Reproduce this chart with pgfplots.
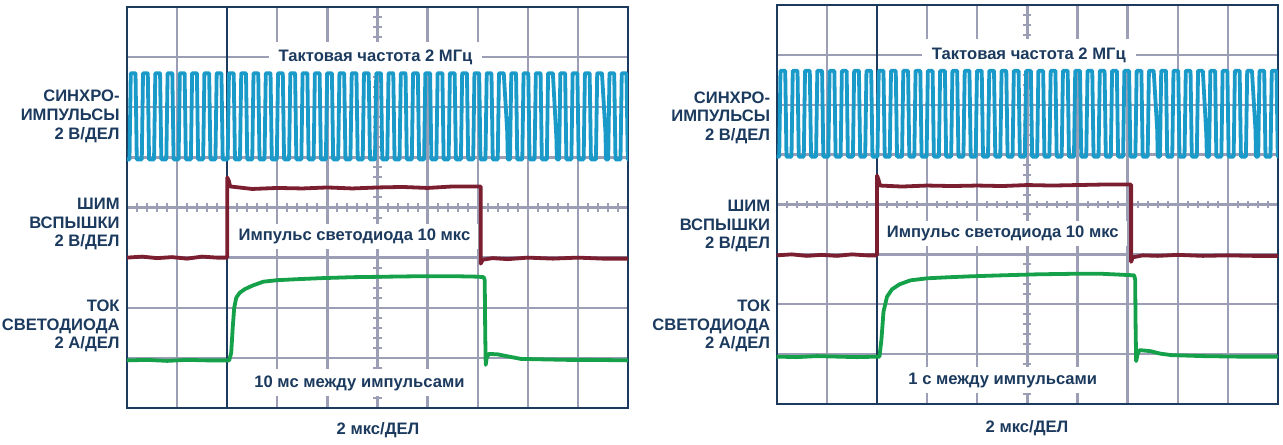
\documentclass[border=0pt]{standalone}
\usepackage{pgfplots}
\pgfplotsset{compat=1.18}
\usepackage{pgfplotstable}
\usepackage{fontspec}
\setmainfont{Liberation Sans}
\definecolor{navy}{HTML}{1B3A5E}
\definecolor{gridc}{HTML}{9C9EB5}
\definecolor{clk}{HTML}{1A9AC8}
\definecolor{pwm}{HTML}{7A1E30}
\definecolor{led}{HTML}{15A04A}

\pgfplotstableread{
x y
0 4.96
0.05 4.96
0.075 6.68
0.17 6.68
0.195 4.96
0.295 4.96
0.32 6.68
0.415 6.68
0.44 4.96
0.54 4.96
0.565 6.68
0.66 6.68
0.685 4.96
0.785 4.96
0.81 6.68
0.905 6.68
0.93 4.96
1.03 4.96
1.055 6.68
1.15 6.68
1.175 4.96
1.275 4.96
1.3 6.68
1.395 6.68
1.42 4.96
1.52 4.96
1.545 6.68
1.64 6.68
1.665 4.96
1.765 4.96
1.79 6.68
1.885 6.68
1.91 4.96
2.01 4.96
2.035 6.68
2.13 6.68
2.155 4.96
2.255 4.96
2.28 6.68
2.375 6.68
2.4 4.96
2.5 4.96
2.525 6.68
2.62 6.68
2.645 4.96
2.745 4.96
2.77 6.68
2.865 6.68
2.89 4.96
2.99 4.96
3.015 6.68
3.11 6.68
3.135 4.96
3.235 4.96
3.26 6.68
3.355 6.68
3.38 4.96
3.48 4.96
3.505 6.68
3.6 6.68
3.625 4.96
3.725 4.96
3.75 6.68
3.845 6.68
3.87 4.96
3.97 4.96
3.995 6.68
4.09 6.68
4.115 4.96
4.215 4.96
4.24 6.68
4.335 6.68
4.36 4.96
4.46 4.96
4.485 6.68
4.58 6.68
4.605 4.96
4.705 4.96
4.73 6.68
4.825 6.68
4.85 4.96
4.95 4.96
4.975 6.68
5.07 6.68
5.095 4.96
5.195 4.96
5.22 6.68
5.315 6.68
5.34 4.96
5.44 4.96
5.465 6.68
5.56 6.68
5.585 4.96
5.685 4.96
5.71 6.68
5.805 6.68
5.83 4.96
5.93 4.96
5.955 6.68
6.05 6.68
6.075 4.96
6.175 4.96
6.2 6.68
6.295 6.68
6.32 4.96
6.42 4.96
6.445 6.68
6.54 6.68
6.565 4.96
6.665 4.96
6.69 6.68
6.785 6.68
6.81 4.96
6.91 4.96
6.935 6.68
7.03 6.68
7.055 4.96
7.155 4.96
7.18 6.68
7.275 6.68
7.3 4.96
7.4 4.96
7.425 6.68
7.52 6.68
7.59 5.5
7.6 4.96
7.645 4.96
7.67 6.68
7.765 6.68
7.79 4.96
7.89 4.96
7.915 6.68
8.01 6.68
8.035 4.96
8.135 4.96
8.16 6.68
8.255 6.68
8.28 4.96
8.38 4.96
8.405 6.68
8.5 6.68
8.57 5.4
8.58 4.96
8.625 4.96
8.65 6.68
8.745 6.68
8.77 4.96
8.87 4.96
8.895 6.68
8.99 6.68
9.015 4.96
9.115 4.96
9.14 6.68
9.235 6.68
9.26 4.96
9.36 4.96
9.385 6.68
9.48 6.68
9.55 5.5
9.56 4.96
9.605 4.96
9.63 6.68
9.725 6.68
9.75 4.96
9.85 4.96
9.875 6.68
9.97 6.68
9.995 4.96
10 4.96
}\clock

\pgfplotstableread{
x y
0 3.0
0.3 3.02
0.6 2.99
0.9 3.01
1.2 2.98
1.5 3.02
1.8 3.0
2.0 3.0
2.0 4.6
2.03 4.54
2.06 4.42
2.5 4.37
3.0 4.39
3.5 4.38
4.0 4.40
4.5 4.38
5.0 4.40
5.5 4.41
6.0 4.39
6.5 4.42
7.06 4.42
7.06 2.88
7.1 2.96
7.3 2.99
7.6 2.97
8.0 3.0
8.5 2.98
9.0 3.0
9.5 2.98
10 2.98
}\pwmL

\pgfplotstableread{
x y
0 0.95
0.4 0.96
0.8 0.94
1.2 0.96
1.6 0.95
2.04 0.95
2.08 1.1
2.11 1.6
2.14 2.0
2.18 2.2
2.25 2.3
2.35 2.37
2.5 2.44
2.72 2.52
3.0 2.55
3.4 2.57
3.86 2.59
4.5 2.61
5.2 2.62
5.9 2.63
6.5 2.63
7.0 2.62
7.12 2.61
7.14 2.55
7.15 1.5
7.16 0.86
7.18 1.0
7.22 1.08
7.4 1.07
7.6 1.03
7.86 0.98
8.3 0.97
8.8 0.96
9.3 0.96
10 0.95
}\ledL

\pgfplotstableread{
x y
0 2.98
0.3 3.0
0.6 2.97
0.9 2.99
1.2 2.97
1.5 3.0
1.8 2.98
2.0 2.98
2.0 4.58
2.03 4.5
2.06 4.38
2.5 4.36
3.0 4.38
3.5 4.37
4.0 4.38
4.5 4.37
5.0 4.39
5.5 4.38
6.0 4.39
6.5 4.40
7.07 4.40
7.07 2.85
7.1 2.94
7.3 2.98
7.6 2.97
8.0 2.99
8.5 2.97
9.0 2.98
9.5 2.97
10 2.97
}\pwmR

\pgfplotstableread{
x y
0 0.95
0.4 0.94
0.8 0.96
1.2 0.95
1.6 0.94
2.05 0.95
2.09 1.3
2.13 1.85
2.2 2.15
2.3 2.3
2.45 2.4
2.67 2.48
3.0 2.52
3.4 2.54
3.87 2.56
4.5 2.58
5.2 2.6
5.87 2.61
6.5 2.61
7.13 2.58
7.15 2.5
7.16 1.5
7.17 0.86
7.2 1.0
7.24 1.08
7.45 1.06
7.65 1.01
7.87 0.98
8.5 0.96
9.2 0.95
10 0.95
}\ledR

\pgfplotsset{osc/.style={
  scale only axis, xmin=0, xmax=10, ymin=0, ymax=8,
  xtick={1,...,9}, ytick={1,...,7},
  xticklabels={}, yticklabels={},
  major tick length=0pt, grid=major,
  major grid style={gridc, line width=1.15pt},
  axis line style={navy, line width=1.1pt},
  clip mode=individual,
  every axis plot/.append style={line width=1.9pt, line join=round},
}}
\tikzset{lbl/.style={font=\bfseries\fontsize{8.3}{9.4}\selectfont, text=navy}}

\begin{document}
\begin{tikzpicture}[x=0.5pt, y=0.5pt]
\useasboundingbox (0pt,0pt) rectangle (641.5pt,222pt);
% left panel
\begin{axis}[osc, at={(63.5pt,18pt)}, anchor=south west, width=250.5pt, height=200.5pt]
\pgfplotsinvokeforeach{1,...,49}{\draw[gridc, line width=1pt] (axis cs:{#1*0.2},3.92) -- (axis cs:{#1*0.2},4.08);}
\pgfplotsinvokeforeach{1,...,39}{\draw[gridc, line width=1pt] (axis cs:4.92,{#1*0.2}) -- (axis cs:5.08,{#1*0.2});}
\draw[navy, line width=1.1pt] (axis cs:2,0) -- (axis cs:2,8);
\node[lbl, fill=white, inner xsep=5pt, inner ysep=4pt] at (axis cs:4.96,7) {Тактовая частота 2 МГц};
\node[lbl, fill=white, inner xsep=4pt, inner ysep=2.5pt] at (axis cs:4.54,3.43) {Импульс светодиода 10 мкс};
\node[lbl, fill=white, inner xsep=4pt, inner ysep=3pt] at (axis cs:4.64,0.5) {10 мс между импульсами};
\addplot[clk] table {\clock};
\addplot[pwm] table {\pwmL};
\addplot[led] table {\ledL};
\end{axis}
% right panel
\begin{axis}[osc, at={(388.35pt,20pt)}, anchor=south west, width=250.65pt, height=199.5pt]
\pgfplotsinvokeforeach{1,...,49}{\draw[gridc, line width=1pt] (axis cs:{#1*0.2},3.92) -- (axis cs:{#1*0.2},4.08);}
\pgfplotsinvokeforeach{1,...,39}{\draw[gridc, line width=1pt] (axis cs:4.92,{#1*0.2}) -- (axis cs:5.08,{#1*0.2});}
\draw[navy, line width=1.1pt] (axis cs:2,0) -- (axis cs:2,8);
\node[lbl, fill=white, inner xsep=5pt, inner ysep=4pt] at (axis cs:5.03,7) {Тактовая частота 2 МГц};
\node[lbl, fill=white, inner xsep=4pt, inner ysep=2.5pt] at (axis cs:4.51,3.42) {Импульс светодиода 10 мкс};
\node[lbl, fill=white, inner xsep=4pt, inner ysep=3pt] at (axis cs:4.51,0.48) {1 с между импульсами};
\addplot[clk] table {\clock};
\addplot[pwm] table {\pwmR};
\addplot[led] table {\ledR};
\end{axis}
% outside labels
\node[lbl, anchor=east, align=right, inner sep=0pt] at (60pt,163.75pt) {СИНХРО-\\ИМПУЛЬСЫ\\2 В/ДЕЛ};
\node[lbl, anchor=east, align=right, inner sep=0pt] at (60pt,110pt) {ШИМ\\ВСПЫШКИ\\2 В/ДЕЛ};
\node[lbl, anchor=east, align=right, inner sep=0pt] at (60pt,59pt) {ТОК\\СВЕТОДИОДА\\2 А/ДЕЛ};
\node[lbl, anchor=east, align=right, inner sep=0pt] at (385.25pt,163.15pt) {СИНХРО-\\ИМПУЛЬСЫ\\2 В/ДЕЛ};
\node[lbl, anchor=east, align=right, inner sep=0pt] at (385.25pt,109pt) {ШИМ\\ВСПЫШКИ\\2 В/ДЕЛ};
\node[lbl, anchor=east, align=right, inner sep=0pt] at (385.25pt,59pt) {ТОК\\СВЕТОДИОДА\\2 А/ДЕЛ};
\node[lbl, inner sep=0pt] at (189pt,7pt) {2 мкс/ДЕЛ};
\node[lbl, inner sep=0pt] at (513.5pt,8pt) {2 мкс/ДЕЛ};
\end{tikzpicture}
\end{document}
